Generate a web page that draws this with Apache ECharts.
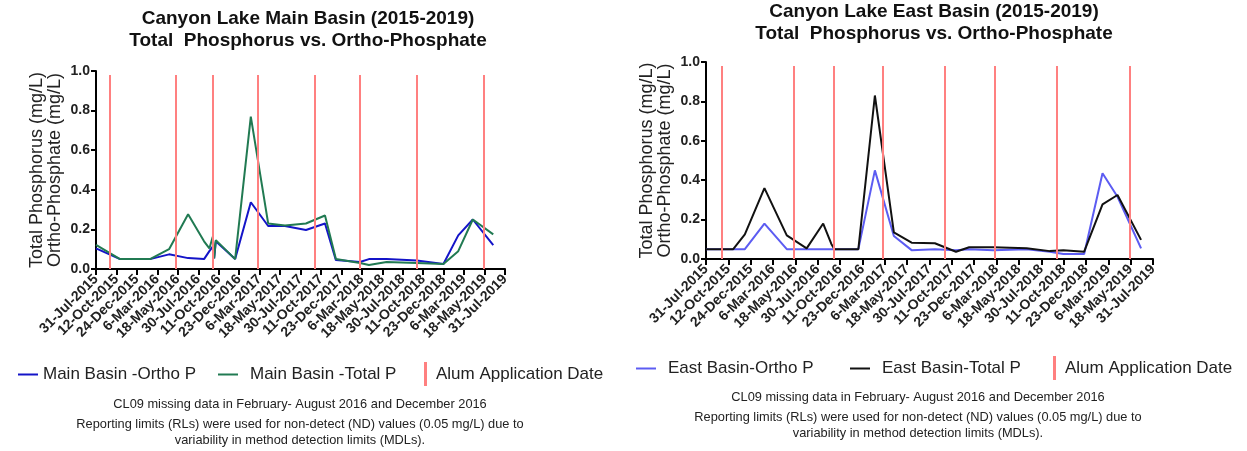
<!DOCTYPE html>
<html>
<head>
<meta charset="utf-8">
<script src="https://cdn.jsdelivr.net/npm/echarts@6/dist/echarts.min.js"></script>
<style>
html,body{margin:0;padding:0;background:#fff;}
#c{width:1247px;height:451px;}
</style>
</head>
<body>
<div id="c"></div>
<script>
// x positions are days since 31-Jul-2015
const tickLabels = ['31-Jul-2015','12-Oct-2015','24-Dec-2015','6-Mar-2016','18-May-2016','30-Jul-2016','11-Oct-2016','23-Dec-2016','6-Mar-2017','18-May-2017','30-Jul-2017','11-Oct-2017','23-Dec-2017','6-Mar-2018','18-May-2018','30-Jul-2018','11-Oct-2018','23-Dec-2018','6-Mar-2019','18-May-2019','31-Jul-2019'];
const yTicks = [0, 0.2, 0.4, 0.6, 0.8, 1.0];

const mainDays  = [0, 86, 193, 261, 329, 386, 405, 417, 422, 428, 497, 553, 615, 675, 750, 818, 857, 943, 975, 1038, 1146, 1241, 1294, 1346, 1419];
const mainOrtho = [0.104, 0.05, 0.05, 0.074, 0.055, 0.05, 0.09, 0.113, 0.054, 0.14, 0.05, 0.337, 0.217, 0.217, 0.197, 0.23, 0.045, 0.035, 0.05, 0.05, 0.043, 0.025, 0.17, 0.25, 0.12];
const mainTotal = [0.122, 0.05, 0.05, 0.10, 0.276, 0.14, 0.104, 0.163, 0.054, 0.146, 0.05, 0.77, 0.23, 0.22, 0.23, 0.27, 0.05, 0.03, 0.02, 0.035, 0.03, 0.025, 0.09, 0.25, 0.175];

const eastDays  = [0, 89, 127, 191, 264, 329, 383, 410, 420, 498, 552, 614, 672, 748, 817, 860, 939, 1048, 1124, 1168, 1236, 1296, 1345, 1422];
const eastOrtho = [0.05, 0.05, 0.05, 0.18, 0.05, 0.05, 0.05, 0.05, 0.05, 0.05, 0.45, 0.117, 0.045, 0.05, 0.045, 0.05, 0.045, 0.05, 0.037, 0.025, 0.025, 0.435, 0.316, 0.054];
const eastTotal = [0.05, 0.05, 0.125, 0.36, 0.12, 0.054, 0.18, 0.075, 0.05, 0.05, 0.83, 0.135, 0.083, 0.08, 0.037, 0.06, 0.06, 0.055, 0.04, 0.045, 0.037, 0.277, 0.325, 0.097];

const alumDays = [50, 286, 416, 578, 781, 943, 1146, 1385];
const alumTop = 0.98;

const xMax = 1461;
const xStep = xMax / 20;

const FONT = '"Liberation Sans", Arial, sans-serif';
const pair = (xs, ys) => xs.map((x, i) => [x, ys[i]]);

function xAxisCfg(gi) {
  return {
    type: 'value', gridIndex: gi, min: 0, max: xMax, interval: xStep,
    splitLine: {show: false},
    axisLine: {show: true, lineStyle: {color: '#000', width: 2}},
    axisTick: {show: true, length: 6, lineStyle: {color: '#000', width: 2}},
    axisLabel: {
      rotate: 45, margin: 8, color: '#222', fontFamily: FONT, fontWeight: 'bold', fontSize: 14,
      lineHeight: 12, hideOverlap: false,
      showMinLabel: true, showMaxLabel: true,
      formatter: v => tickLabels[Math.round(v / xStep)] || ''
    }
  };
}
function yAxisCfg(gi) {
  return {
    type: 'value', gridIndex: gi, min: 0, max: 1.0, interval: 0.2,
    splitLine: {show: false},
    axisLine: {show: true, lineStyle: {color: '#000', width: 2}},
    axisTick: {show: true, length: 5, lineStyle: {color: '#000', width: 2}},
    axisLabel: {color: '#222', fontFamily: FONT, fontWeight: 'bold', fontSize: 14, margin: 6,
      formatter: v => (yTicks.find(t => Math.abs(t - v) < 1e-6) ?? v).toFixed(1)},
    name: 'Total Phosphorus (mg/L)\nOrtho-Phosphate (mg/L)',
    nameLocation: 'middle', nameRotate: 90, nameGap: 32,
    nameTextStyle: {color: '#222', fontFamily: FONT, fontSize: 18, lineHeight: 18}
  };
}
function alumSeries(xi) {
  return {
    name: 'Alum Application Date', type: 'line', xAxisIndex: xi, yAxisIndex: xi,
    data: [], color: '#FF8080', itemStyle: {color: '#FF8080'},
    markLine: {
      silent: true, symbol: 'none', label: {show: false},
      lineStyle: {color: '#FF8080', width: 2, type: 'solid'},
      emphasis: {disabled: true},
      data: alumDays.map(d => [{coord: [d, 0]}, {coord: [d, alumTop]}])
    }
  };
}
function lineSeries(name, xs, ys, color, xi) {
  return {
    name, type: 'line', xAxisIndex: xi, yAxisIndex: xi, data: pair(xs, ys),
    showSymbol: false, symbol: 'none', color, lineStyle: {color, width: 2},
    emphasis: {disabled: true}, z: 3
  };
}

const legendText = (pad) => ({color: '#222', fontFamily: FONT, fontSize: 17, padding: [0, 0, 0, pad]});
const lineLegend = (name, left, top, pad) => ({data: [name], left, top, icon: 'rect', itemWidth: 20, itemHeight: 2,
  textStyle: legendText(pad), selectedMode: false, padding: 0});
const alumLegend = (left, top) => ({data: ['Alum Application Date'], left, top, icon: 'rect', itemWidth: 3, itemHeight: 24,
  textStyle: legendText(4), selectedMode: false, padding: 0});
const noteStyle = (x, y, t) => ({type: 'text', x, y,
  style: {text: t, fill: '#222', font: '12.8px ' + FONT, textAlign: 'center', textVerticalAlign: 'middle'}});

const chart = echarts.init(document.getElementById('c'), null, {renderer: 'canvas'});
chart.setOption({
  animation: false,
  backgroundColor: '#fff',
  title: [
    {text: 'Canyon Lake Main Basin (2015-2019)\nTotal  Phosphorus vs. Ortho-Phosphate', left: 303, top: 3, textAlign: 'center',
     textStyle: {fontFamily: FONT, fontWeight: 'bold', fontSize: 19, color: '#111', lineHeight: 22}},
    {text: 'Canyon Lake East Basin (2015-2019)\nTotal  Phosphorus vs. Ortho-Phosphate', left: 929, top: -4, textAlign: 'center',
     textStyle: {fontFamily: FONT, fontWeight: 'bold', fontSize: 19, color: '#111', lineHeight: 22}}
  ],
  grid: [
    {left: 96, top: 71, width: 409, height: 198, containLabel: false},
    {left: 706, top: 62, width: 447, height: 197, containLabel: false}
  ],
  xAxis: [xAxisCfg(0), xAxisCfg(1)],
  yAxis: [yAxisCfg(0), yAxisCfg(1)],
  legend: [
    lineLegend('Main Basin -Ortho P', 18, 366, 0),
    lineLegend('Main Basin -Total P', 218, 366, 7),
    alumLegend(424, 362),
    lineLegend('East Basin-Ortho P', 636, 360, 7),
    lineLegend('East Basin-Total P', 850, 360, 7),
    alumLegend(1053, 356)
  ],
  series: [
    alumSeries(0),
    lineSeries('Main Basin -Ortho P', mainDays, mainOrtho, '#1414C8', 0),
    lineSeries('Main Basin -Total P', mainDays, mainTotal, '#217A52', 0),
    alumSeries(1),
    lineSeries('East Basin-Ortho P', eastDays, eastOrtho, '#5C5CF2', 1),
    lineSeries('East Basin-Total P', eastDays, eastTotal, '#111111', 1)
  ],
  graphic: [
    noteStyle(300, 404, 'CL09 missing data in February- August 2016 and December 2016'),
    noteStyle(300, 424, 'Reporting limits (RLs) were used for non-detect (ND) values (0.05 mg/L) due to'),
    noteStyle(300, 440, 'variability in method detection limits (MDLs).'),
    noteStyle(918, 397, 'CL09 missing data in February- August 2016 and December 2016'),
    noteStyle(918, 417, 'Reporting limits (RLs) were used for non-detect (ND) values (0.05 mg/L) due to'),
    noteStyle(918, 433, 'variability in method detection limits (MDLs).')
  ]
});
</script>
</body>
</html>
